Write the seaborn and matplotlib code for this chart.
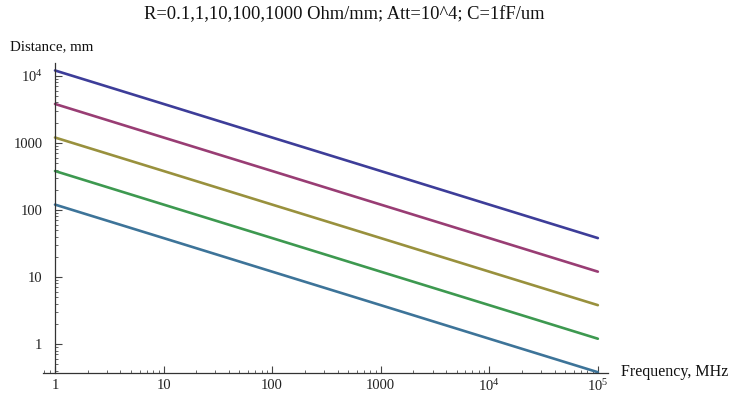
import numpy as np
import pandas as pd
import matplotlib
matplotlib.use("Agg")
import matplotlib.pyplot as plt
import seaborn as sns
from matplotlib.ticker import LogLocator, FixedLocator, NullFormatter

# Data
frequency = [1, 10, 100, 1000, 10000, 100000]
resistance = ["0.1", "1", "10", "100", "1000"]
dist_r01 = [12000, 3800, 1200, 380, 120, 38]
dist_r1 = [3800, 1200, 380, 120, 38, 12]
dist_r10 = [1200, 380, 120, 38, 12, 3.8]
dist_r100 = [380, 120, 38, 12, 3.8, 1.2]
dist_r1000 = [120, 38, 12, 3.8, 1.2, 0.38]
series = [dist_r01, dist_r1, dist_r10, dist_r100, dist_r1000]

x_ticks = [1, 10, 100, 1000, 10000, 100000]
x_ticklabels = ["1", "10", "100", "1000", r"$10^4$", r"$10^5$"]
y_ticks = [1, 10, 100, 1000, 10000]
y_ticklabels = ["1", "10", "100", "1000", r"$10^4$"]

colors = ["#3d3d99", "#993d74", "#99913d", "#3d9950", "#3d7499"]

rows = []
for r, vals in zip(resistance, series):
    for f, d in zip(frequency, vals):
        rows.append({"Frequency": f, "Distance": d, "R": r})
df = pd.DataFrame(rows)

sns.set_style("white")
plt.rcParams["font.family"] = ["Liberation Serif", "DejaVu Serif"]
plt.rcParams["mathtext.fontset"] = "custom"
plt.rcParams["mathtext.rm"] = "Liberation Serif"
plt.rcParams["mathtext.it"] = "Liberation Serif"

fig = plt.figure(figsize=(7.32, 3.95), dpi=100)
ax = fig.add_axes([43 / 732, (395 - 373) / 395, 565 / 732, (373 - 63) / 395])

sns.lineplot(data=df, x="Frequency", y="Distance", hue="R", palette=colors,
             linewidth=1.9, legend=False, ax=ax)

ax.set_xscale("log")
ax.set_yscale("log")
ax.set_xlim(0.775, 1.24e5)
ax.set_ylim(0.37, 15500)

for s in ["top", "right"]:
    ax.spines[s].set_visible(False)
ax.spines["left"].set_position(("data", 1))
ax.spines["bottom"].set_position(("data", 0.37))
for s in ["left", "bottom"]:
    ax.spines[s].set_color("#333333")
    ax.spines[s].set_linewidth(0.9)

ax.xaxis.set_major_locator(FixedLocator(x_ticks))
ax.set_xticklabels(x_ticklabels)
ax.yaxis.set_major_locator(FixedLocator(y_ticks))
ax.set_yticklabels(y_ticklabels)
ax.xaxis.set_minor_locator(LogLocator(base=10, subs=np.arange(2, 10)))
ax.yaxis.set_minor_locator(LogLocator(base=10, subs=np.arange(2, 10)))
ax.xaxis.set_minor_formatter(NullFormatter())
ax.yaxis.set_minor_formatter(NullFormatter())

ax.tick_params(axis="both", which="major", direction="in", length=5, width=0.8,
               color="#444444", labelsize=10.5, labelcolor="#222222",
               bottom=True, left=True)
ax.tick_params(axis="x", which="major", pad=4)
ax.tick_params(axis="y", which="major", pad=9)
ax.tick_params(axis="both", which="minor", direction="in", length=2.5, width=0.7,
               color="#666666", bottom=True, left=True)

ax.set_xlabel("")
ax.set_ylabel("")
fig.text(10 / 732, (395 - 47) / 395, "Distance, mm", ha="left", va="center",
         fontsize=10.8, color="#111111")
fig.text(621 / 732, (395 - 372) / 395, "Frequency, MHz", ha="left", va="center",
         fontsize=11.5, color="#111111")
fig.text(344 / 732, (395 - 15) / 395,
         "R=0.1,1,10,100,1000 Ohm/mm; Att=10^4; C=1fF/um",
         ha="center", va="center", fontsize=13.3, color="#111111")

fig.savefig("out.png", dpi=100)
